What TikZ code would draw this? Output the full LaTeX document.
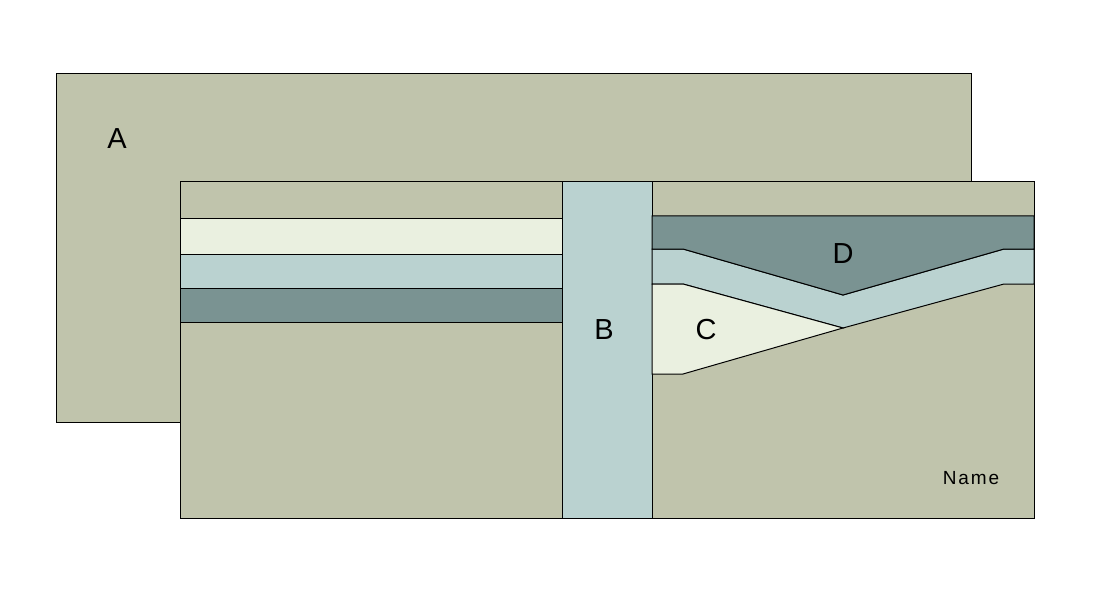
\documentclass[tikz,border=0pt]{standalone}
\usepackage{fontspec}
\setmainfont{Liberation Sans}
\usepackage{tikz}

\definecolor{walletTan}{HTML}{C0C4AC}
\definecolor{walletCream}{HTML}{EAF0E0}
\definecolor{walletBlue}{HTML}{BAD2D0}
\definecolor{walletTeal}{HTML}{7A9392}

\begin{document}
\begin{tikzpicture}[
    x=1pt, y=-1pt,
    % Panels and stripes: filled, thin black outline
    part/.style={draw=black, line width=1pt, line join=miter},
    tan/.style={part, fill=walletTan},
    cream/.style={part, fill=walletCream},
    lblue/.style={part, fill=walletBlue},
    teal/.style={part, fill=walletTeal},
    % Letters on the parts
    biglabel/.style={font=\fontsize{29}{32}\selectfont, inner sep=0pt},
    smalllabel/.style={font=\fontsize{19}{21}\selectfont, inner sep=0pt},
]
\useasboundingbox (0,0) rectangle (1100,596);

% ============================================================
% Back panel A
% ============================================================
\draw[tan] (56,74) rectangle (971,422);
\node[biglabel] (labA) at (117,139) {A};

% ============================================================
% Left front panel with card stripes
% ============================================================
\draw[tan] (180,182) rectangle (562,518);
\draw[cream] (180,219) rectangle (562,254);
\draw[lblue] (180,254) rectangle (562,288);
\draw[teal] (180,288) rectangle (562,322);

% ============================================================
% Middle fold B
% ============================================================
\draw[lblue] (562,182) rectangle (652,518);
\node[biglabel] (labB) at (604,330) {B};

% ============================================================
% Right front panel: D pocket, blue band, C pocket
% ============================================================
\draw[tan] (652,182) rectangle (1034,518);
\draw[lblue] (652,249) -- (683,249) -- (843,295) -- (1004,249) -- (1034,249)
    -- (1034,284) -- (1004,284) -- (843,328) -- (683,284) -- (652,284) -- cycle;
\draw[teal] (652,216) -- (1034,216) -- (1034,249) -- (1004,249)
    -- (843,295) -- (683,249) -- (652,249) -- cycle;
\draw[cream] (652,284) -- (683,284) -- (843,328) -- (683,374) -- (652,374) -- cycle;

\node[biglabel] (labD) at (843,254) {D};
\node[biglabel] (labC) at (706,330) {C};
\node[smalllabel] (labName) at (971,478) {\addfontfeature{LetterSpace=10}Name};

\end{tikzpicture}
\end{document}
